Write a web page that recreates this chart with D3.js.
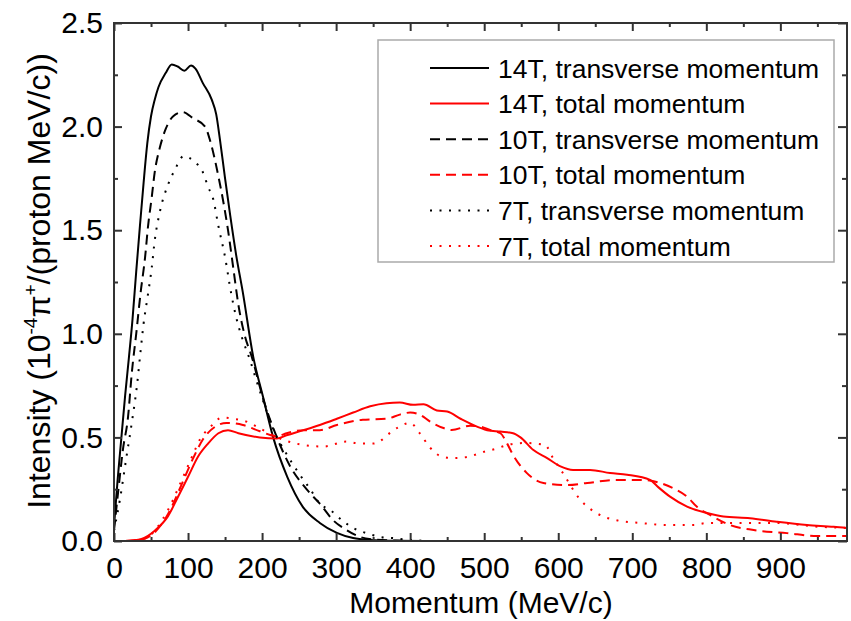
<!DOCTYPE html>
<html><head><meta charset="utf-8">
<script src="https://cdn.jsdelivr.net/npm/d3@7"></script>
<style>
html,body{margin:0;padding:0;background:#fff;}
svg{display:block;font-family:"Liberation Sans",Arial,sans-serif;}
</style></head>
<body>
<svg id="chart" width="851" height="621"></svg>
<script>
// ---- data ----
const xTicks = [0,100,200,300,400,500,600,700,800,900];
const yTicks = [0.0,0.5,1.0,1.5,2.0,2.5];
const xMinor = [50,150,250,350,450,550,650,750,850,950];
const yMinor = [0.25,0.75,1.25,1.75,2.25];

const legendLabels = ["14T, transverse momentum","14T, total momentum","10T, transverse momentum","10T, total momentum","7T, transverse momentum","7T, total momentum"];

const t14TransX = [0,5,10,15,20,25,30,35,40,45,50,55,60,70,78,86,95,104,110,120,132,138,143,150,157,165,174,188,201,215,234,255,278,301,323,346,380,420,990];
const t14TransY = [0.07,0.3,0.5,0.7,0.88,1.07,1.3,1.52,1.73,1.92,2.05,2.13,2.19,2.26,2.30,2.29,2.27,2.295,2.28,2.21,2.13,2.06,1.94,1.75,1.57,1.38,1.2,0.89,0.70,0.50,0.31,0.165,0.087,0.039,0.014,0.005,0.001,0,0];

const t14TotX = [15,37,55,73,86,100,114,127,141,154,168,197,220,233,256,278,301,323,346,368,386,404,418,436,450,468,485,504,522,539,549,566,585,603,620,643,670,693,724,735,751,774,801,823,859,895,936,972,990];
const t14TotY = [0,0.01,0.05,0.12,0.21,0.31,0.41,0.47,0.52,0.535,0.52,0.50,0.495,0.51,0.535,0.56,0.59,0.62,0.65,0.665,0.668,0.657,0.66,0.63,0.625,0.59,0.56,0.535,0.528,0.52,0.50,0.44,0.40,0.36,0.343,0.343,0.328,0.32,0.295,0.26,0.214,0.166,0.135,0.118,0.11,0.093,0.077,0.069,0.063];

const t10TransX = [0,6,12,19,24,30,36,42,46,51,55,62,70,80,93,107,123,130,141,148,154,161,168,176,186,202,220,238,260,278,296,314,332,350,380,420,990];
const t10TransY = [0.05,0.25,0.44,0.6,0.81,1.0,1.2,1.37,1.52,1.66,1.78,1.90,1.99,2.05,2.07,2.04,2.0,1.93,1.76,1.63,1.5,1.32,1.14,1.0,0.89,0.68,0.50,0.36,0.25,0.18,0.10,0.053,0.02,0.008,0.002,0,0];

const t10TotX = [15,40,73,91,107,120,136,152,174,197,220,233,256,278,301,336,368,386,400,413,427,445,456,481,495,508,522,531,539,557,580,612,639,679,711,738,755,774,787,805,832,864,909,950,990];
const t10TotY = [0,0.01,0.13,0.27,0.40,0.49,0.55,0.57,0.56,0.53,0.505,0.52,0.535,0.535,0.56,0.585,0.59,0.61,0.62,0.61,0.576,0.545,0.536,0.556,0.552,0.536,0.52,0.47,0.415,0.33,0.28,0.27,0.28,0.295,0.295,0.28,0.255,0.214,0.166,0.126,0.077,0.053,0.038,0.024,0.024];

const t7TransX = [0,8,17,24,31,36,40,45,51,55,62,73,82,94,109,120,127,134,141,150,158,165,173,184,191,202,215,233,249,265,278,292,308,323,341,359,377,400,430,990];
const t7TransY = [0.05,0.2,0.41,0.57,0.75,0.92,1.05,1.17,1.32,1.45,1.59,1.72,1.79,1.857,1.83,1.78,1.71,1.65,1.52,1.37,1.2,1.08,0.98,0.87,0.79,0.67,0.54,0.42,0.33,0.25,0.18,0.15,0.10,0.063,0.038,0.02,0.014,0.005,0,0];

const t7TotX = [15,40,73,91,107,116,130,146,161,179,201,229,246,283,314,332,350,382,400,413,427,443,461,479,499,515,532,555,582,593,605,630,645,661,679,711,747,783,801,828,859,895,950,990];
const t7TotY = [0,0.01,0.15,0.29,0.42,0.49,0.55,0.596,0.59,0.576,0.536,0.488,0.47,0.456,0.48,0.47,0.47,0.545,0.57,0.52,0.45,0.407,0.40,0.407,0.43,0.444,0.464,0.473,0.464,0.40,0.335,0.198,0.15,0.118,0.10,0.087,0.077,0.077,0.087,0.087,0.087,0.087,0.069,0.063];

// ---- layout ----
const svg = d3.select("#chart");
const x = d3.scaleLinear().domain([0,990]).range([114,847]);
const y = d3.scaleLinear().domain([0,2.5]).range([541,23]);

const series = [
  {xs:t14TransX, ys:t14TransY, color:"#000", dash:null},
  {xs:t14TotX, ys:t14TotY, color:"#ff0000", dash:null},
  {xs:t10TransX, ys:t10TransY, color:"#000", dash:"10,6"},
  {xs:t10TotX, ys:t10TotY, color:"#ff0000", dash:"10,6"},
  {xs:t7TransX, ys:t7TransY, color:"#000", dash:"2,7.5"},
  {xs:t7TotX, ys:t7TotY, color:"#ff0000", dash:"2,7.5"}
];

const line = d3.line().x(d=>x(d[0])).y(d=>y(d[1])).curve(d3.curveMonotoneX);
svg.append("clipPath").attr("id","pc").append("rect")
  .attr("x",114).attr("y",23).attr("width",733).attr("height",518);

const plot = svg.append("g").attr("clip-path","url(#pc)");
series.forEach(s=>{
  const pts = s.xs.map((v,i)=>[v,s.ys[i]]);
  plot.append("path").attr("d",line(pts)).attr("fill","none")
    .attr("stroke",s.color).attr("stroke-width",2)
    .attr("stroke-dasharray",s.dash);
});

// ---- axes ----
const fs = "30px";
const ff = "Liberation Sans, Arial, sans-serif";
const axCol = "#333";
function styleAxis(g){ g.select(".domain").remove(); g.selectAll("line").attr("stroke",axCol).attr("stroke-width",2); }

svg.append("g").attr("transform","translate(0,541)")
  .call(d3.axisBottom(x).tickValues(xTicks).tickSize(-8).tickPadding(16).tickFormat(d3.format("d")))
  .call(styleAxis).selectAll("text").attr("font-size",fs).attr("fill","#000").attr("font-family",ff);
svg.append("g").attr("transform","translate(0,541)")
  .call(d3.axisBottom(x).tickValues(xMinor).tickSize(-4).tickFormat(""))
  .call(styleAxis);
svg.append("g").attr("transform","translate(0,23)")
  .call(d3.axisTop(x).tickValues(xTicks).tickSize(-8).tickFormat(""))
  .call(styleAxis);
svg.append("g").attr("transform","translate(0,23)")
  .call(d3.axisTop(x).tickValues(xMinor).tickSize(-4).tickFormat(""))
  .call(styleAxis);

svg.append("g").attr("transform","translate(114,0)")
  .call(d3.axisLeft(y).tickValues(yTicks).tickSize(-8).tickPadding(11).tickFormat(d3.format(".1f")))
  .call(styleAxis).selectAll("text").attr("font-size",fs).attr("fill","#000").attr("font-family",ff);
svg.append("g").attr("transform","translate(114,0)")
  .call(d3.axisLeft(y).tickValues(yMinor).tickSize(-4).tickFormat(""))
  .call(styleAxis);
svg.append("g").attr("transform","translate(847,0)")
  .call(d3.axisRight(y).tickValues(yTicks).tickSize(-9).tickFormat(""))
  .call(styleAxis);
svg.append("g").attr("transform","translate(847,0)")
  .call(d3.axisRight(y).tickValues(yMinor).tickSize(-5).tickFormat(""))
  .call(styleAxis);

svg.append("rect").attr("x",114).attr("y",23).attr("width",733).attr("height",518)
  .attr("fill","none").attr("stroke",axCol).attr("stroke-width",2);

// ---- titles ----
svg.append("text").attr("x",481).attr("y",613).attr("text-anchor","middle")
  .attr("font-size","30px").attr("fill","#000").text("Momentum (MeV/c)");

const yt = svg.append("text").attr("transform","translate(50,281) rotate(-90)")
  .attr("text-anchor","middle").attr("font-size","32px").attr("fill","#000");
yt.append("tspan").text("Intensity (10");
yt.append("tspan").attr("dy",-13).attr("font-size","19px").text("-4");
yt.append("tspan").attr("dy",13).text("π");
yt.append("tspan").attr("dy",-13).attr("font-size","19px").text("+");
yt.append("tspan").attr("dy",13).text("/(proton MeV/c))");

// ---- legend ----
const lg = svg.append("g");
lg.append("rect").attr("x",378).attr("y",40).attr("width",456).attr("height",222)
  .attr("fill","#fff").attr("stroke","#aaa").attr("stroke-width",1.5);
legendLabels.forEach((lab,i)=>{
  const cy = 68 + i*35.6;
  const s = series[i];
  lg.append("line").attr("x1",430).attr("x2",489).attr("y1",cy).attr("y2",cy)
    .attr("stroke",s.color).attr("stroke-width",2).attr("stroke-dasharray",s.dash);
  lg.append("text").attr("x",498).attr("y",cy).attr("dy","0.36em")
    .attr("font-size","26.5px").attr("fill","#000").text(lab);
});
</script>
</body></html>
